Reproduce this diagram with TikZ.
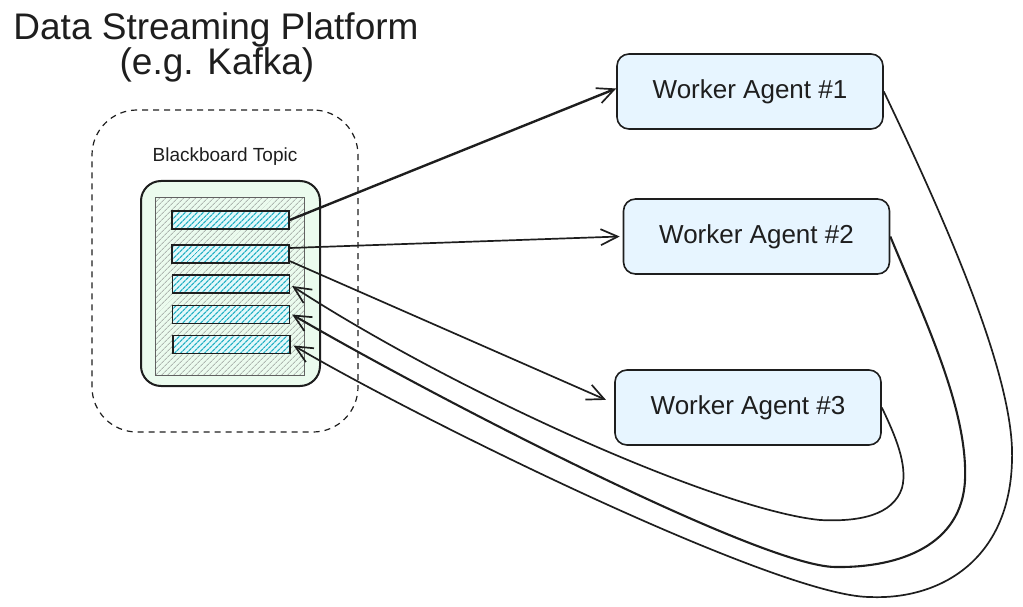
\documentclass[tikz,border=0pt]{standalone}
\usepackage{fontspec}
\setmainfont{Liberation Sans}
\usetikzlibrary{arrows.meta,patterns.meta}
\definecolor{ink}{HTML}{1E1E1E}
\definecolor{greenfill}{HTML}{EBFBEE}
\definecolor{bluefill}{HTML}{E7F5FF}
\definecolor{barfill}{HTML}{E3F8FA}
\definecolor{barhatch}{HTML}{22B0C4}
\definecolor{grayhatch}{HTML}{AEB6B0}
\begin{document}
\begin{tikzpicture}[x=1pt,y=-1pt,
  every node/.style={text=ink},
  titletext/.style={font=\fontsize{37}{40}\selectfont},
  labeltext/.style={font=\fontsize{19}{22}\selectfont},
  dashbox/.style={draw=ink,line width=1.2pt,dash pattern=on 6pt off 5pt,rounded corners=45pt,minimum width=266pt,minimum height=322pt,inner sep=0pt},
  topicbox/.style={draw=ink,line width=2pt,fill=greenfill,rounded corners=20pt,minimum width=179pt,minimum height=205pt,inner sep=0pt},
  innerbox/.style={draw=ink!70,line width=0.8pt,preaction={fill=greenfill},pattern={Lines[angle=45,distance=4pt,line width=1pt]},pattern color=grayhatch,minimum width=149pt,minimum height=178pt,inner sep=0pt},
  barbox/.style={draw=ink,line width=1.1pt,preaction={fill=barfill},pattern={Lines[angle=45,distance=4pt,line width=1.3pt]},pattern color=barhatch,minimum width=117pt,minimum height=18pt,inner sep=0pt},
  wbox/.style={draw=ink,line width=1.6pt,fill=bluefill,rounded corners=12pt,minimum width=266pt,minimum height=75pt,inner sep=0pt,font=\fontsize{26}{30}\selectfont},
  arr/.style={draw=ink,line width=1.7pt,-{Straight Barb[length=17pt,width=16pt,line width=1.7pt]}},
  loop/.style={draw=ink,line width=1.7pt,-{Straight Barb[length=17pt,width=16pt,line width=1.7pt]}}
]
\useasboundingbox (0,0) rectangle (1023,607);

% titles
\node[titletext] (t1) at (216,30) {Data Streaming Platform};
\node[titletext] (t2) at (217,65) {(e.g. Kafka)};

% group
\node[dashbox] (grp) at (225,271) {};
\node[labeltext] (bbl) at (225,157) {Blackboard Topic};
\node[topicbox] (topic) at (230.5,283.5) {};
\node[innerbox] (inner) at (229.5,286) {};
\node[barbox] (bar1) at (230.5,220) {};
\node[barbox] (bar2) at (230.5,254) {};
\node[barbox] (bar3) at (231,284) {};
\node[barbox] (bar4) at (231,314.5) {};
\node[barbox] (bar5) at (231.5,344.5) {};

% workers
\node[wbox] (wa1) at (750,91.5) {Worker Agent \#1};
\node[wbox] (wa2) at (756.5,236.5) {Worker Agent \#2};
\node[wbox] (wa3) at (748,407.5) {Worker Agent \#3};

% outgoing arrows
\draw[arr,line width=2.4pt] (bar1.east) -- ([yshift=3pt]wa1.west);
\draw[arr] ([yshift=6pt]bar2.east) -- ([xshift=-3pt]wa2.west);
\draw[arr,shorten >=9pt] ([yshift=-7pt]bar2.east) -- ([yshift=4pt]wa3.west);

% return loops
\draw[loop] (wa3.east) .. controls (895,435) and (908,465) .. (902,488)
  .. controls (893,515) and (860,522) .. (820,520)
  .. controls (720,510) and (460,395) .. ([xshift=2pt,yshift=-2pt]bar3.east);
\draw[loop,line width=2.1pt] (wa2.east) .. controls (925,320) and (968,410) .. (965,480)
  .. controls (962,545) and (900,568) .. (835,567)
  .. controls (760,566) and (430,395) .. ([xshift=2pt]bar4.east);
\draw[loop] (wa1.east) .. controls (950,230) and (1015,380) .. (1012,460)
  .. controls (1010,560) and (940,600) .. (870,597)
  .. controls (780,597) and (420,420) .. ([xshift=3pt,yshift=-1pt]bar5.east);
\end{tikzpicture}
\end{document}
